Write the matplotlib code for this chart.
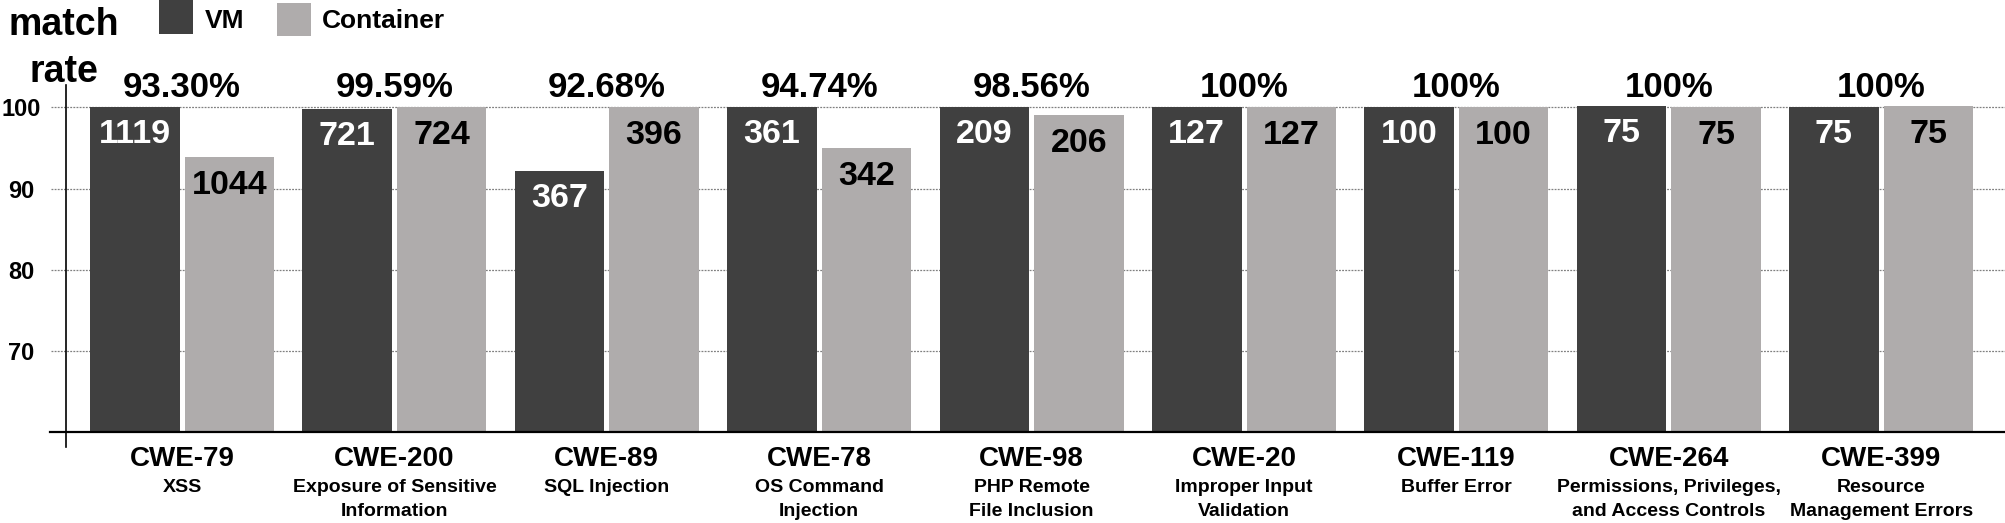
import matplotlib
matplotlib.use("Agg")
import matplotlib.pyplot as plt
from matplotlib.patches import Rectangle
import numpy as np

# ---- data ----
categories = ["CWE-79", "CWE-200", "CWE-89", "CWE-78", "CWE-98",
              "CWE-20", "CWE-119", "CWE-264", "CWE-399"]
subtitles = ["XSS", "Exposure of Sensitive\nInformation", "SQL Injection",
             "OS Command\nInjection", "PHP Remote\nFile Inclusion",
             "Improper Input\nValidation", "Buffer Error",
             "Permissions, Privileges,\nand Access Controls",
             "Resource\nManagement Errors"]
series_names = ["VM", "Container"]
vm_values = [100, 99.8, 92.16, 100, 100, 100, 100, 100.2, 100]
container_values = [93.9, 100, 100, 94.95, 99.05, 100, 100, 100, 100.15]
vm_counts = [1119, 721, 367, 361, 209, 127, 100, 75, 75]
container_counts = [1044, 724, 396, 342, 206, 127, 100, 75, 75]
match_rates = ["93.30%", "99.59%", "92.68%", "94.74%", "98.56%",
               "100%", "100%", "100%", "100%"]
yticks = [70, 80, 90, 100]
ytick_labels = ["70", "80", "90", "100"]

plt.rcParams['font.family'] = ['Liberation Sans', 'DejaVu Sans']
plt.rcParams['font.weight'] = 'bold'

W, H = 2006, 523
DPI = 100
fig = plt.figure(figsize=(W / DPI, H / DPI), dpi=DPI)

def fx(px):
    return px / W

def fy(py):
    return 1 - py / H

# axes geometry (pixels)
ax_left, ax_right = 65.7, 2006
ax_bottom, ax_top = 432.3, 85
ax = fig.add_axes([fx(ax_left), fy(ax_bottom), fx(ax_right - ax_left),
                   (ax_bottom - ax_top) / H])

spacing = 212.4
c0 = 182.0
xlim = ((ax_left - c0) / spacing, (ax_right - c0) / spacing)
ymin = 60
ppu = 8.125
ymax = ymin + (ax_bottom - ax_top) / ppu
ax.set_xlim(*xlim)
ax.set_ylim(ymin, ymax)

vm_color = "#404040"
ct_color = "#afacac"
bw = 89.5 / spacing
off = (89.5 + 5) / 2 / spacing
x = np.arange(len(categories))

vm_arr = np.array(vm_values)
ct_arr = np.array(container_values)
ax.bar(x - off, vm_arr - ymin, bottom=ymin, width=bw, color=vm_color, zorder=3)
ax.bar(x + off, ct_arr - ymin, bottom=ymin, width=bw, color=ct_color, zorder=3)

for s in ax.spines.values():
    s.set_visible(False)

# gridlines
grid_x0 = (51 - c0) / spacing
for yv in yticks:
    ax.plot([grid_x0, xlim[1]], [yv, yv], color="#808080", lw=0.9,
            ls=(0, (1.5, 1)), zorder=1, clip_on=False)

# axis lines
ax.plot([(50 - c0) / spacing, xlim[1]], [ymin, ymin], color="black", lw=1.6,
        zorder=4, clip_on=False)
ax.plot([xlim[0], xlim[0]], [ymin - (446.7 - ax_bottom) / ppu, ymax],
        color="black", lw=1.2, zorder=4, clip_on=False)

# y ticks
ax.set_yticks(yticks)
ax.set_yticklabels(ytick_labels, fontsize=17, fontweight='bold')
ax.tick_params(axis='y', length=0, pad=(ax_left - 21.5) * 72 / DPI)
for lab in ax.get_yticklabels():
    lab.set_horizontalalignment('center')
ax.set_xticks([])

px2pt = 72 / DPI

# bar value labels
for i in range(len(categories)):
    ax.annotate(str(vm_counts[i]), (x[i] - off, vm_values[i]),
                xytext=(0, -36 * px2pt), textcoords='offset points',
                ha='center', va='baseline', fontsize=24.5, fontweight='bold',
                color='white', zorder=5)
    ax.annotate(str(container_counts[i]), (x[i] + off, container_values[i]),
                xytext=(0, -37 * px2pt), textcoords='offset points',
                ha='center', va='baseline', fontsize=24.5, fontweight='bold',
                color='black', zorder=5)
    # match rate
    ax.annotate(match_rates[i], (x[i], 100), xytext=(0, 10.5 * px2pt),
                textcoords='offset points', ha='center', va='baseline',
                fontsize=25, fontweight='bold', color='black',
                annotation_clip=False)
    # category labels
    ax.annotate(categories[i], (x[i], ymin), xytext=(0, -33.5 * px2pt),
                textcoords='offset points', ha='center', va='baseline',
                fontsize=20, fontweight='bold', annotation_clip=False)
    for j, line in enumerate(subtitles[i].split("\n")):
        ax.annotate(line, (x[i], ymin),
                    xytext=(0, -(59.5 + 24.5 * j) * px2pt),
                    textcoords='offset points', ha='center', va='baseline',
                    fontsize=14, fontweight='bold', annotation_clip=False)

# y label "match rate"
fig.text(fx(63.5), fy(35), "match", ha='center', va='baseline',
         fontsize=27, fontweight='bold')
fig.text(fx(63.5), fy(82), "rate", ha='center', va='baseline',
         fontsize=27, fontweight='bold')

# legend
fig.add_artist(Rectangle((fx(159), fy(34)), fx(34), 34 / H,
                         transform=fig.transFigure, color=vm_color, lw=0))
fig.text(fx(205), fy(28.5), series_names[0], ha='left', va='baseline',
         fontsize=19, fontweight='bold')
fig.add_artist(Rectangle((fx(277), fy(36)), fx(34), 33 / H,
                         transform=fig.transFigure, color=ct_color, lw=0))
fig.text(fx(322), fy(28.5), series_names[1], ha='left', va='baseline',
         fontsize=19, fontweight='bold')

fig.savefig("out.png", dpi=DPI)
